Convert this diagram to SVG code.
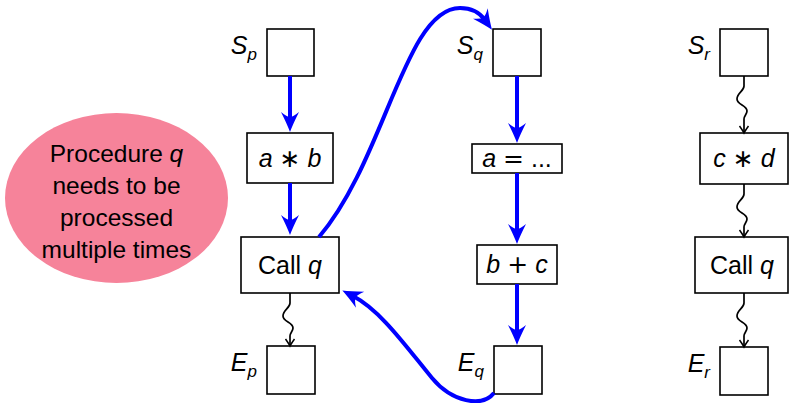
<svg xmlns="http://www.w3.org/2000/svg" width="789" height="403" viewBox="0 0 789 403">
<style>
.box{fill:#fff;stroke:#000;stroke-width:1.6}
.t{font-family:"Liberation Sans",Arial,sans-serif;font-size:25px;fill:#000;text-anchor:middle}
.lb{font-family:"Liberation Sans",Arial,sans-serif;font-size:25px;fill:#000;text-anchor:end;font-style:italic}
.i{font-style:italic}
.op{font-family:"DejaVu Sans",sans-serif;font-style:normal;font-weight:normal}
.sub{font-size:17px}
.b{fill:none;stroke:#0000ff;stroke-width:4;marker-end:url(#ab)}
.k{fill:none;stroke:#000;stroke-width:1.7;marker-end:url(#ak)}
.note{font-family:"Liberation Sans",Arial,sans-serif;font-size:24.5px;fill:#000;text-anchor:middle}
</style>
<defs>
<marker id="ab" markerUnits="userSpaceOnUse" viewBox="-10 -10 24 20" markerWidth="24" markerHeight="20" refX="0" refY="0" orient="auto" overflow="visible">
<path d="M12,0 Q4,-3 -8,-9 Q-3,-3 -3,0 Q-3,3 -8,9 Q4,3 12,0 Z" fill="#0000ff"/>
</marker>
<marker id="ak" markerUnits="userSpaceOnUse" viewBox="-8 -6 10 12" markerWidth="10" markerHeight="12" refX="0" refY="0" orient="auto" overflow="visible">
<path d="M-7,-4.5 Q-2,-1 0,0 Q-2,1 -7,4.5" fill="none" stroke="#000" stroke-width="1.5"/>
</marker>
</defs>

<g id="note">
<ellipse cx="116.5" cy="198" rx="111.5" ry="85" fill="#f6839a"/>
<text class="note" x="116.5" y="162">Procedure <tspan class="i">q</tspan></text>
<text class="note" x="116.5" y="194">needs to be</text>
<text class="note" x="116.5" y="226">processed</text>
<text class="note" x="116.5" y="258">multiple times</text>
</g>

<g id="Sp"><rect class="box" x="267" y="29" width="47" height="47"/>
<text class="lb" x="257" y="54">S<tspan class="sub" dy="6">p</tspan></text></g>
<g id="ab_node"><rect class="box" x="247" y="133" width="86" height="50"/>
<text class="t" x="290" y="167"><tspan class="i">a</tspan> <tspan class="op">∗</tspan> <tspan class="i">b</tspan></text></g>
<g id="Callp"><rect class="box" x="241" y="237" width="98" height="56"/>
<text class="t" x="290" y="274">Call <tspan class="i">q</tspan></text></g>
<g id="Ep"><rect class="box" x="267" y="346" width="48" height="48"/>
<text class="lb" x="257" y="371">E<tspan class="sub" dy="6">p</tspan></text></g>

<g id="Sq"><rect class="box" x="493" y="29" width="48" height="47"/>
<text class="lb" x="483" y="54">S<tspan class="sub" dy="6">q</tspan></text></g>
<g id="aeq"><rect class="box" x="472" y="144" width="90" height="29"/>
<text class="t" x="517" y="167"><tspan class="i">a</tspan> <tspan class="op">=</tspan> ...</text></g>
<g id="bc"><rect class="box" x="477" y="245" width="80" height="39"/>
<text class="t" x="517" y="273"><tspan class="i">b</tspan> <tspan class="op">+</tspan> <tspan class="i">c</tspan></text></g>
<g id="Eq"><rect class="box" x="494" y="346" width="48" height="48"/>
<text class="lb" x="484" y="371">E<tspan class="sub" dy="6">q</tspan></text></g>

<g id="Sr"><rect class="box" x="720" y="29" width="48" height="47"/>
<text class="lb" x="710" y="54">S<tspan class="sub" dy="6">r</tspan></text></g>
<g id="cd"><rect class="box" x="700" y="133" width="88" height="51"/>
<text class="t" x="744" y="167"><tspan class="i">c</tspan> <tspan class="op">∗</tspan> <tspan class="i">d</tspan></text></g>
<g id="Callr"><rect class="box" x="695" y="237" width="93" height="56"/>
<text class="t" x="742" y="274">Call <tspan class="i">q</tspan></text></g>
<g id="Er"><rect class="box" x="720" y="347" width="48" height="48"/>
<text class="lb" x="710" y="372">E<tspan class="sub" dy="6">r</tspan></text></g>

<g id="connectors">
<path class="b" d="M290,76 L290,120"/>
<path class="b" d="M290,183 L290,223"/>
<path class="b" d="M517,76 L517,131"/>
<path class="b" d="M517,173 L517,232"/>
<path class="b" d="M517,284 L517,333"/>
<path class="b" d="M319,237 C385,160 405,8 460,8 C472,8 480,13 485,20"/>
<path class="b" d="M494,393 C482,408 452,402 432,378 C405,345 380,310 353,296"/>
<path class="k" d="M290,293 l0,10 c0,5 -7,7 -7,13 c0,6 10,6 10,12 c0,3 -3,5 -3,8 l0,10"/>
<path class="k" d="M744,76 l0,10 c0,5 -7,7 -7,13 c0,6 10,6 10,12 c0,3 -3,5 -3,8 l0,14"/>
<path class="k" d="M744,184 l0,10 c0,5 -7,7 -7,13 c0,6 10,6 10,12 c0,3 -3,5 -3,8 l0,10"/>
<path class="k" d="M744,293 l0,10 c0,5 -7,7 -7,13 c0,6 10,6 10,12 c0,3 -3,5 -3,8 l0,11"/>
</g>
</svg>
